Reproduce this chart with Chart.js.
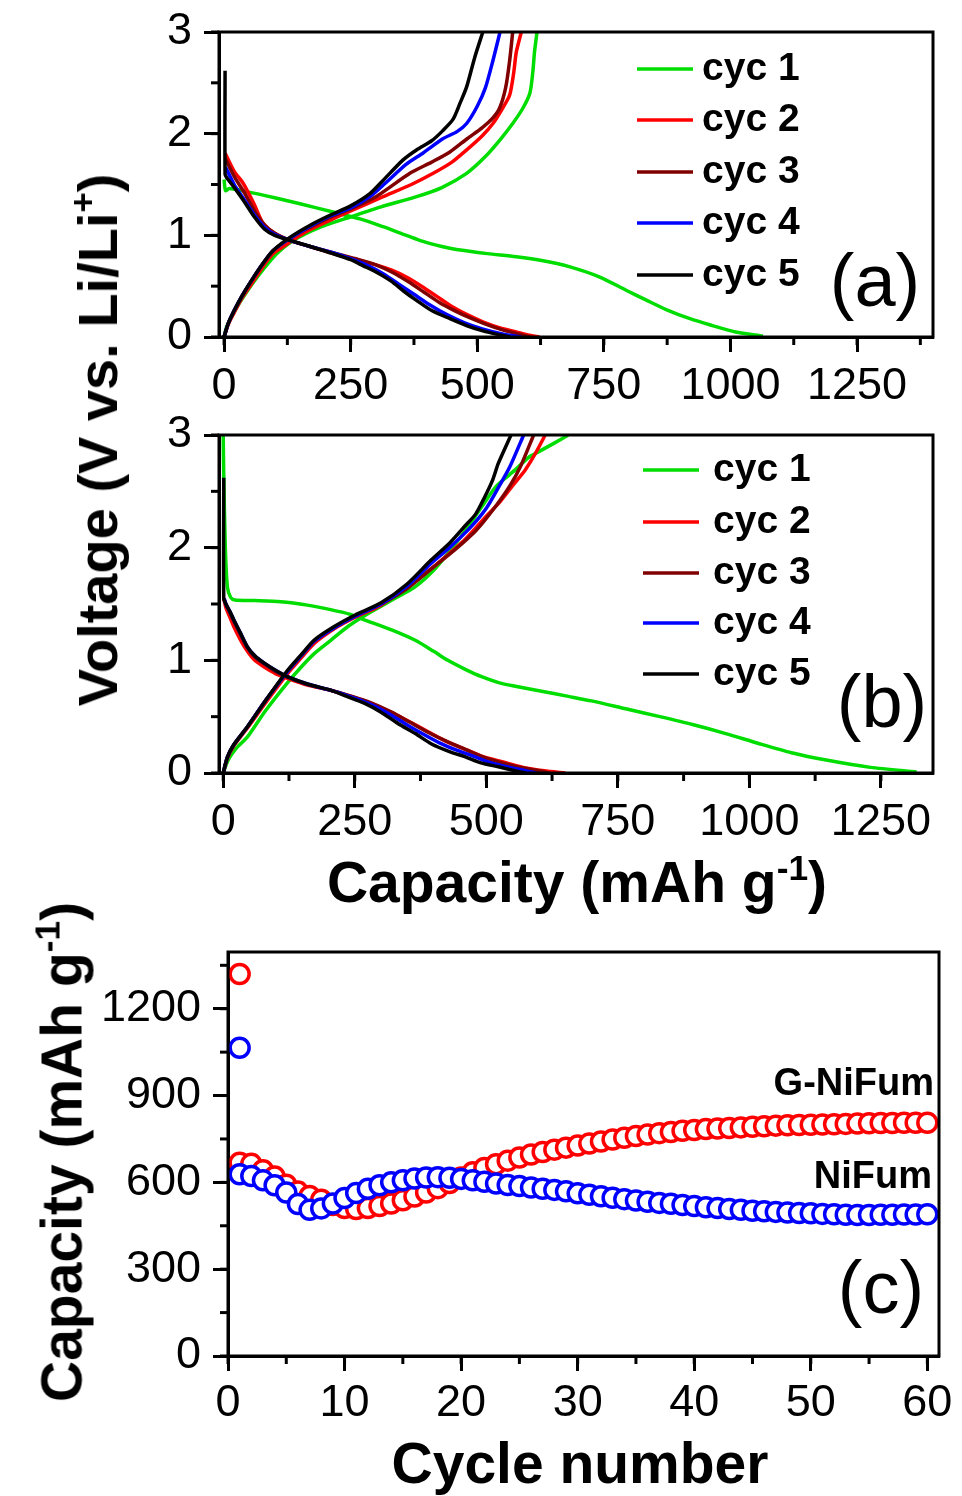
<!DOCTYPE html>
<html>
<head>
<meta charset="utf-8">
<script src="https://cdn.jsdelivr.net/npm/chart.js@4.4.0/dist/chart.umd.min.js"></script>
<style>
  body { margin: 0; background: #fff; width: 962px; height: 1496px; position: relative; overflow: hidden;
         font-family: "Liberation Sans", Arial, sans-serif; }
  canvas { position: absolute; left: 0; }
  .t { position: absolute; font-weight: bold; font-size: 56px; line-height: 1; white-space: nowrap; color: #000; }
  .t sup { font-size: 0.62em; position: relative; top: -0.62em; vertical-align: baseline; }
</style>
</head>
<body>
<canvas id="pa" width="962" height="433" style="top:-13px"></canvas>
<canvas id="pb" width="962" height="463" style="top:390px"></canvas>
<canvas id="pc" width="962" height="529" style="top:907px"></canvas>

<div class="t" style="left:98px;top:440px;transform:translate(-50%,-50%) rotate(-90deg)">Voltage (V vs. Li/Li<sup>+</sup>)</div>
<div class="t" style="left:577px;top:882px;font-size:57px;transform:translate(-50%,-50%)">Capacity (mAh g<sup>-1</sup>)</div>
<div class="t" style="left:62px;top:1152px;font-size:57px;transform:translate(-50%,-50%) rotate(-90deg)">Capacity (mAh g<sup>-1</sup>)</div>
<div class="t" style="left:580px;top:1463px;font-size:57px;transform:translate(-50%,-50%)">Cycle number</div>

<script>
// ---- data ----
const cycles = ['cyc 1', 'cyc 2', 'cyc 3', 'cyc 4', 'cyc 5'];

// panel (a): [capacity mAh/g, voltage V]
const aDis1 = [[0,1.55],[3,1.44],[10,1.46],[45,1.43],[100,1.37],[150,1.31],[215,1.23],[270,1.16],[314,1.085],[360,1.0],[393,0.94],[430,0.89],[459,0.86],[520,0.82],[577,0.79],[630,0.75],[683,0.69],[742,0.59],[794,0.46],[835,0.36],[873,0.27],[920,0.18],[959,0.12],[1010,0.05],[1064,0.01]];
const aChg1 = [[0,0],[5,0.1],[12,0.17],[30,0.33],[51,0.49],[78,0.67],[104,0.82],[137,0.95],[190,1.08],[249,1.18],[310,1.28],[380,1.38],[430,1.47],[479,1.61],[515,1.77],[545,1.94],[570,2.1],[590,2.25],[604,2.4],[610,2.62],[613,2.8],[618,3.0]];
const aDis2 = [[2,1.81],[20,1.63],[38,1.51],[60,1.3],[77,1.12],[100,1.02],[130,0.95],[170,0.89],[215,0.82],[260,0.76],[300,0.71],[330,0.66],[360,0.59],[390,0.5],[420,0.4],[450,0.3],[480,0.22],[511,0.15],[545,0.09],[577,0.05],[600,0.02],[623,0.0]];
const aChg2 = [[0,0],[8,0.12],[20,0.24],[35,0.38],[51,0.5],[75,0.68],[97,0.82],[117,0.89],[160,1.03],[210,1.15],[250,1.24],[314,1.38],[370,1.5],[413,1.61],[450,1.72],[479,1.84],[510,1.98],[531,2.1],[550,2.25],[564,2.38],[572,2.6],[577,2.8],[587,3.0]];
const aDis3 = [[3,1.75],[20,1.58],[40,1.42],[60,1.24],[80,1.1],[100,1.02],[130,0.95],[170,0.89],[215,0.83],[260,0.77],[300,0.71],[335,0.63],[365,0.54],[395,0.44],[425,0.34],[455,0.26],[485,0.19],[515,0.13],[550,0.07],[580,0.03],[605,0.0]];
const aChg3 = [[0,0],[8,0.13],[20,0.26],[35,0.4],[51,0.53],[75,0.71],[97,0.85],[130,0.97],[170,1.08],[210,1.18],[250,1.26],[300,1.38],[367,1.61],[410,1.72],[446,1.82],[480,1.95],[510,2.06],[530,2.15],[544,2.25],[556,2.45],[564,2.72],[570,3.0]];
const aDis4 = [[3,1.67],[20,1.5],[40,1.35],[60,1.2],[80,1.08],[100,1.01],[130,0.95],[170,0.89],[215,0.83],[250,0.77],[285,0.7],[315,0.62],[345,0.52],[375,0.42],[405,0.32],[440,0.22],[475,0.14],[510,0.08],[550,0.03],[587,0.0]];
const aChg4 = [[0,0],[8,0.13],[20,0.26],[35,0.4],[51,0.53],[75,0.71],[97,0.85],[130,0.97],[170,1.09],[210,1.19],[250,1.27],[288,1.38],[320,1.52],[360,1.7],[393,1.81],[432,1.95],[460,2.02],[479,2.1],[500,2.27],[516,2.45],[531,2.72],[545,3.0]];
const aDis5 = [[2,2.62],[2,1.6],[5,1.57],[20,1.47],[40,1.33],[60,1.18],[80,1.06],[100,1.0],[130,0.95],[170,0.89],[215,0.82],[250,0.76],[275,0.7],[300,0.64],[330,0.55],[355,0.45],[380,0.36],[410,0.26],[446,0.18],[480,0.11],[511,0.06],[545,0.02],[565,0.0]];
const aChg5 = [[0,0],[8,0.13],[20,0.26],[35,0.4],[51,0.53],[75,0.71],[97,0.85],[130,0.98],[170,1.1],[210,1.2],[250,1.29],[288,1.41],[314,1.54],[353,1.74],[380,1.84],[410,1.93],[432,2.03],[452,2.14],[466,2.3],[479,2.46],[495,2.75],[511,3.0]];

// panel (b)
const bDis1 = [[0,3.0],[1,2.65],[4,2.0],[8,1.65],[14,1.56],[22,1.535],[60,1.53],[109,1.52],[160,1.49],[204,1.45],[240,1.41],[268,1.36],[320,1.27],[364,1.18],[400,1.08],[427,1.0],[460,0.92],[491,0.855],[525,0.8],[555,0.77],[600,0.73],[656,0.68],[700,0.64],[765,0.57],[830,0.5],[892,0.43],[955,0.35],[1019,0.26],[1080,0.18],[1146,0.115],[1230,0.05],[1318,0.01]];
const bChg1 = [[0,0],[10,0.12],[25,0.22],[46,0.32],[80,0.55],[122,0.8],[150,0.95],[173,1.06],[205,1.18],[237,1.3],[270,1.4],[300,1.48],[330,1.56],[364,1.65],[400,1.8],[427,1.95],[460,2.15],[491,2.36],[520,2.55],[555,2.69],[580,2.8],[599,2.85],[630,2.93],[656,3.0]];
const bDis2 = [[1,1.55],[5,1.47],[12,1.39],[20,1.3],[33,1.18],[46,1.08],[60,1.0],[78,0.94],[100,0.88],[122,0.84],[160,0.78],[204,0.735],[235,0.69],[268,0.64],[300,0.58],[340,0.49],[380,0.39],[420,0.29],[460,0.21],[491,0.15],[530,0.1],[570,0.05],[610,0.02],[650,0.0]];
const bChg2 = [[0,0],[8,0.13],[20,0.24],[46,0.4],[80,0.62],[122,0.88],[150,1.03],[173,1.15],[211,1.28],[250,1.38],[300,1.49],[364,1.7],[410,1.87],[459,2.07],[500,2.28],[523,2.39],[550,2.55],[574,2.69],[595,2.85],[612,3.0]];
const bDis3 = [[1,1.55],[5,1.5],[12,1.43],[20,1.35],[33,1.23],[46,1.11],[60,1.03],[78,0.97],[100,0.9],[122,0.85],[160,0.785],[204,0.735],[245,0.68],[280,0.625],[320,0.54],[355,0.45],[390,0.36],[425,0.28],[460,0.21],[495,0.14],[530,0.09],[565,0.05],[600,0.02],[620,0.0]];
const bChg3 = [[0,0],[8,0.14],[20,0.25],[46,0.41],[80,0.64],[122,0.9],[150,1.05],[173,1.17],[211,1.29],[250,1.39],[300,1.5],[350,1.64],[400,1.83],[440,1.98],[480,2.15],[515,2.35],[545,2.55],[565,2.72],[590,3.0]];
const bDis4 = [[2,1.55],[5,1.5],[12,1.44],[20,1.36],[33,1.24],[46,1.12],[60,1.04],[78,0.975],[100,0.91],[122,0.855],[160,0.79],[204,0.735],[240,0.68],[275,0.62],[310,0.54],[345,0.44],[378,0.35],[410,0.27],[445,0.2],[475,0.15],[510,0.09],[545,0.05],[575,0.02],[595,0.0]];
const bChg4 = [[0,0],[8,0.14],[20,0.25],[46,0.41],[80,0.64],[122,0.9],[150,1.05],[173,1.17],[211,1.29],[250,1.39],[300,1.5],[350,1.66],[395,1.86],[430,2.0],[470,2.18],[500,2.35],[525,2.55],[545,2.72],[571,3.0]];
const bDis5 = [[1,2.62],[1,1.55],[5,1.5],[12,1.44],[20,1.36],[33,1.24],[46,1.12],[60,1.04],[78,0.975],[100,0.91],[122,0.855],[160,0.79],[204,0.735],[235,0.68],[268,0.62],[300,0.54],[332,0.44],[365,0.35],[395,0.26],[430,0.19],[459,0.145],[490,0.09],[523,0.055],[550,0.025],[575,0.0]];
const bChg5 = [[0,0],[8,0.14],[20,0.25],[46,0.41],[80,0.64],[122,0.91],[150,1.06],[173,1.18],[211,1.3],[250,1.4],[300,1.51],[350,1.68],[395,1.89],[430,2.04],[459,2.19],[480,2.3],[497,2.45],[512,2.6],[523,2.75],[547,3.0]];

// panel (c)
const cycleNum = [1,2,3,4,5,6,7,8,9,10,11,12,13,14,15,16,17,18,19,20,21,22,23,24,25,26,27,28,29,30,
                  31,32,33,34,35,36,37,38,39,40,41,42,43,44,45,46,47,48,49,50,51,52,53,54,55,56,57,58,59,60];
const gNiFumCap = [668,664,642,620,592,568,553,540,522,511,508,511,518,527,538,551,565,580,598,617,
                   635,650,663,675,686,696,705,713,720,727,734,741,748,754,760,765,770,774,778,781,
                   784,786,788,790,792,794,796,797,798,799,800,801,802,803,804,805,805,806,806,806];
const niFumCap = [628,622,607,590,565,525,505,510,527,546,563,578,590,600,607,613,617,618,616,612,
                  607,602,596,591,587,582,578,574,569,562,557,552,547,542,537,533,529,526,522,518,
                  514,511,508,505,502,500,498,496,494,493,491,490,488,487,487,488,488,489,489,490];
const firstCycle = [1];
const gNiFumFirst = [1320];
const niFumFirst = [1065];

// ---- styles ----
const cycColors = ['#00dd00', '#ff0000', '#800000', '#0000ff', '#000000'];
const FONT = 'Liberation Sans';

const pts = arr => arr.map(p => ({ x: p[0], y: p[1] }));
const xyPts = (xs, ys) => xs.map((x, i) => ({ x: x, y: ys[i] }));

const framePlugin = {
  id: 'frame',
  afterDraw(chart) {
    const { ctx, chartArea: a } = chart;
    ctx.save();
    ctx.strokeStyle = '#000';
    ctx.lineWidth = 3;
    ctx.strokeRect(a.left, a.top, a.right - a.left, a.bottom - a.top);
    ctx.restore();
  }
};

// minor ticks between the labelled ones
const minorPlugin = {
  id: 'minor',
  afterDraw(chart, args, opts) {
    const ctx = chart.ctx;
    ctx.save();
    ctx.strokeStyle = '#000';
    ctx.lineWidth = 3;
    ['x', 'y'].forEach(k => {
      const s = chart.scales[k], step = opts[k];
      if (!step) return;
      for (let v = Math.ceil(s.min / step) * step; v <= s.max + 1e-9; v += step) {
        const p = s.getPixelForValue(v);
        ctx.beginPath();
        if (k === 'x') { ctx.moveTo(p, s.top); ctx.lineTo(p, s.top + 8); }
        else { ctx.moveTo(s.right, p); ctx.lineTo(s.right - 8, p); }
        ctx.stroke();
      }
    });
    ctx.restore();
  }
};

// legend lines and in-plot labels (page coordinates, shifted by canvas top)
const notesPlugin = {
  id: 'notes',
  afterDraw(chart, args, opts) {
    const ctx = chart.ctx, dy = opts.dy || 0;
    ctx.save();
    (opts.lines || []).forEach(l => {
      ctx.strokeStyle = l.color;
      ctx.lineWidth = 3.5;
      ctx.beginPath();
      ctx.moveTo(l.x1, l.y - dy);
      ctx.lineTo(l.x2, l.y - dy);
      ctx.stroke();
    });
    (opts.texts || []).forEach(t => {
      ctx.font = t.font;
      ctx.fillStyle = '#000';
      ctx.textAlign = t.align || 'left';
      ctx.textBaseline = t.base || 'alphabetic';
      ctx.fillText(t.text, t.x, t.y - dy);
    });
    ctx.restore();
  }
};

function axis(opts) {
  return {
    type: 'linear',
    min: opts.min, max: opts.max,
    afterFit: opts.fit,
    border: { display: true, color: '#000', width: 3 },
    grid: { display: true, drawOnChartArea: false, drawTicks: true, tickLength: 15, tickWidth: 3, tickColor: '#000' },
    ticks: { stepSize: opts.step, includeBounds: false, color: '#000', padding: opts.pad,
             font: { family: FONT, size: 45 }, maxRotation: 0, autoSkip: false,
             callback: v => String(v) }
  };
}

function legendNotes(lineX1, lineX2, textX, rows, dy, tag) {
  const lines = [], texts = [];
  cycles.forEach((c, i) => {
    lines.push({ x1: lineX1, x2: lineX2, y: rows[i], color: cycColors[i] });
    texts.push({ text: c, x: textX, y: rows[i], font: 'bold 39px "' + FONT + '"', base: 'middle' });
  });
  texts.push(tag);
  return { dy: dy, lines: lines, texts: texts };
}

function voltageChart(id, dis, chg, xMin, xMax, xFitH, notes) {
  const datasets = [];
  cycles.forEach((c, i) => {
    [dis[i], chg[i]].forEach(d => datasets.push({
      label: c, data: pts(d), showLine: true, borderColor: cycColors[i], borderWidth: 3.5,
      pointRadius: 0, tension: 0.25, fill: false, order: 5 - i
    }));
  });
  return new Chart(document.getElementById(id), {
    type: 'scatter',
    data: { datasets: datasets },
    options: {
      responsive: false, animation: false, events: [],
      layout: { padding: { left: 0, right: 29, top: 45, bottom: 0 } },
      scales: {
        x: axis({ min: xMin, max: xMax, step: 250, pad: 8, fit: s => { s.height = xFitH; } }),
        y: axis({ min: 0, max: 3, step: 1, pad: 12, fit: s => { s.width = 219; } })
      },
      plugins: { legend: { display: false }, tooltip: { enabled: false },
                 minor: { x: 125, y: 0.5 }, notes: notes }
    },
    plugins: [framePlugin, minorPlugin, notesPlugin]
  });
}

voltageChart('pa', [aDis1, aDis2, aDis3, aDis4, aDis5], [aChg1, aChg2, aChg3, aChg4, aChg5], -10, 1400, 83,
  legendNotes(637, 693, 702, [69, 120, 172, 223, 275], -13,
    { text: '(a)', x: 875, y: 306, font: '74px "' + FONT + '"', align: 'center' }));

voltageChart('pb', [bDis1, bDis2, bDis3, bDis4, bDis5], [bChg1, bChg2, bChg3, bChg4, bChg5], -8, 1349, 80,
  legendNotes(643, 699, 713, [470, 522, 573, 623, 674], 390,
    { text: '(b)', x: 882, y: 727, font: '74px "' + FONT + '"', align: 'center' }));

const markerBase = { showLine: false, pointRadius: 9.5, pointBorderWidth: 3.5, pointBackgroundColor: '#ffffff' };
new Chart(document.getElementById('pc'), {
  type: 'scatter',
  data: {
    datasets: [
      Object.assign({ label: 'NiFum', data: xyPts(cycleNum, niFumCap), pointBorderColor: '#0000ff', order: 1 }, markerBase),
      Object.assign({ label: 'NiFum 1st', data: xyPts(firstCycle, niFumFirst), pointBorderColor: '#0000ff', order: 2 }, markerBase),
      Object.assign({ label: 'G-NiFum', data: xyPts(cycleNum, gNiFumCap), pointBorderColor: '#ff0000', order: 3 }, markerBase),
      Object.assign({ label: 'G-NiFum 1st', data: xyPts(firstCycle, gNiFumFirst), pointBorderColor: '#ff0000', order: 4 }, markerBase)
    ]
  },
  options: {
    responsive: false, animation: false, events: [], clip: false,
    layout: { padding: { left: 0, right: 23, top: 45, bottom: 0 } },
    scales: {
      x: axis({ min: 0, max: 61, step: 10, pad: 6, fit: s => { s.height = 80; } }),
      y: axis({ min: 0, max: 1396, step: 300, pad: 12, fit: s => { s.width = 228; } })
    },
    plugins: { legend: { display: false }, tooltip: { enabled: false },
               minor: { x: 5, y: 150 },
               notes: { dy: 907, texts: [
                 { text: 'G-NiFum', x: 934, y: 1095, font: 'bold 38px "' + FONT + '"', align: 'right' },
                 { text: 'NiFum', x: 932, y: 1188, font: 'bold 38px "' + FONT + '"', align: 'right' },
                 { text: '(c)', x: 881, y: 1313, font: '74px "' + FONT + '"', align: 'center' }
               ] } }
  },
  plugins: [framePlugin, minorPlugin, notesPlugin]
});
</script>
</body>
</html>
